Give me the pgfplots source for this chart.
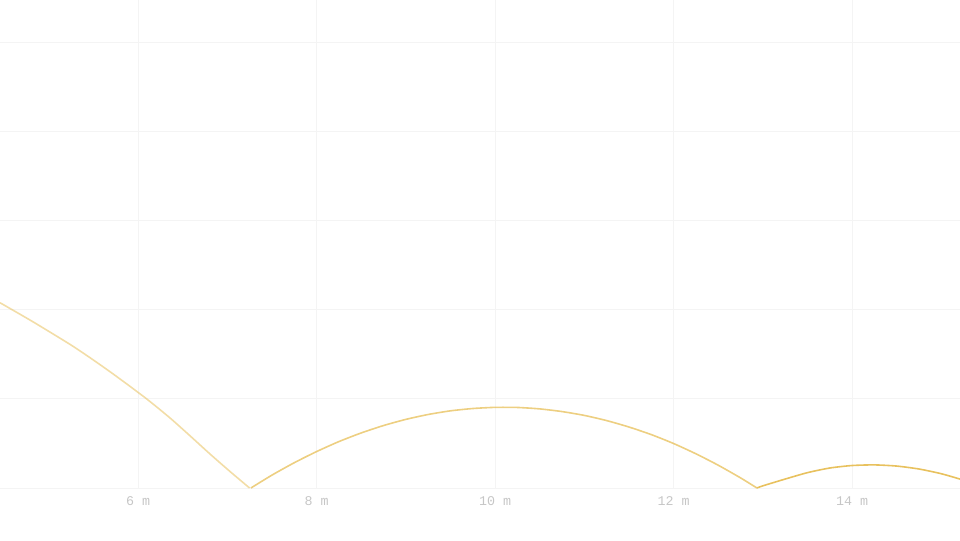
\documentclass[border=0pt]{standalone}
\usepackage{fontspec}
\setmonofont{Liberation Mono}
\usepackage{pgfplots}
\pgfplotsset{compat=1.18}

\definecolor{ball}{HTML}{E6BC50}
\definecolor{gridc}{HTML}{F4F4F4}
\definecolor{tickc}{HTML}{C6C6C6}

\begin{document}
\begin{tikzpicture}
% 1px = 0.75pt, picture is 960x540 px, plot area 960x488 px
\useasboundingbox (0,-39pt) rectangle (720pt,366pt);
\begin{axis}[
    scale only axis,
    width=720pt, height=366pt,
    xmin=4.4538, xmax=15.210,
    ymin=0, ymax=5.471,
    axis line style={draw=none},
    major tick length=0pt,
    xtick={6,8,10,12,14},
    xticklabels={6 m,8 m,10 m,12 m,14 m},
    ytick={0,1,2,3,4,5},
    yticklabels={},
    grid=major,
    grid style={gridc, line width=0.6pt},
    tick label style={font=\ttfamily\fontsize{10}{12}\selectfont, text=tickc},
    xticklabel style={inner sep=0pt},
    xticklabel shift=6.5pt,
    clip=true,
]
% fall before the first bounce
\addplot[ball, opacity=0.5, line width=1.2pt, smooth, tension=0.4] coordinates {
    (4.454,2.077) (4.822,1.864) (5.237,1.611) (5.462,1.461) (5.686,1.304)
    (5.910,1.140) (6.115,0.985) (6.359,0.785) (6.583,0.585) (6.807,0.381)
    (7.031,0.185) (7.250,0)
};
% first bounce
\addplot[ball, opacity=0.72, line width=1.2pt, smooth, tension=0.4] coordinates {
    (7.265,0) (7.5,0.144) (7.75,0.283) (8.0,0.408) (8.25,0.520) (8.5,0.617)
    (8.75,0.700) (9.0,0.769) (9.25,0.824) (9.5,0.865) (9.75,0.891) (10.0,0.904)
    (10.25,0.903) (10.5,0.887) (10.75,0.857) (11.0,0.814) (11.25,0.756)
    (11.5,0.684) (11.75,0.599) (12.0,0.499) (12.25,0.384) (12.5,0.256)
    (12.75,0.114) (12.935,0)
};
% second bounce
\addplot[ball, opacity=0.92, line width=1.2pt, smooth, tension=0.4] coordinates {
    (12.935,0) (13.0,0.024) (13.25,0.100) (13.5,0.172) (13.75,0.224)
    (14.0,0.252) (14.25,0.259) (14.5,0.246) (14.75,0.213) (15.0,0.160)
    (15.25,0.087) (15.485,0)
};
\end{axis}
\end{tikzpicture}
\end{document}
